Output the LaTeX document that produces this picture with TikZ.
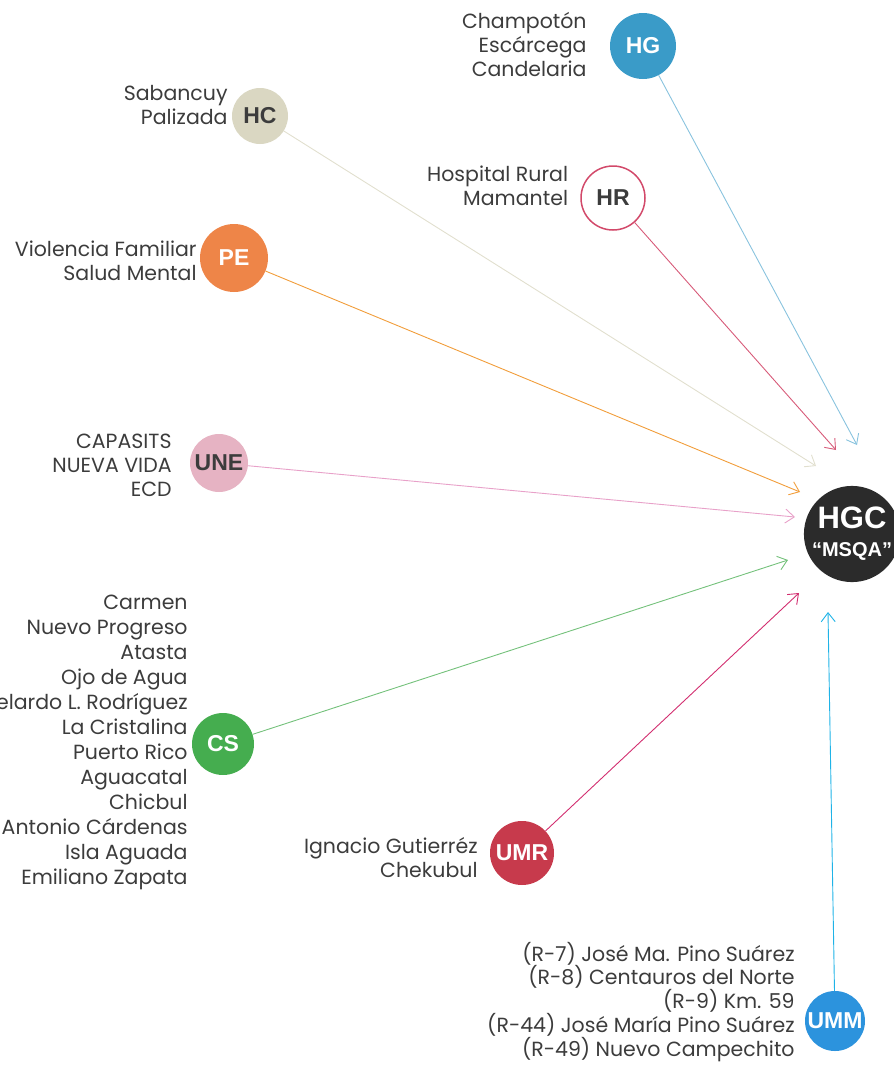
\documentclass[tikz,border=0pt]{standalone}
\usepackage{fontspec}
\setmainfont{Poppins}
\newfontfamily\unitfont{Liberation Sans}
\usepackage{xcolor}
\usetikzlibrary{positioning,arrows.meta}

\definecolor{hgblue}{HTML}{3A9BC8}
\definecolor{hcbeige}{HTML}{DAD7C2}
\definecolor{hrred}{HTML}{D2496A}
\definecolor{peorange}{HTML}{EE8548}
\definecolor{unepink}{HTML}{E6B3C3}
\definecolor{hgcdark}{HTML}{2B2B2B}
\definecolor{csgreen}{HTML}{45AD4F}
\definecolor{umrred}{HTML}{C73A4C}
\definecolor{ummblue}{HTML}{2C93DD}
\definecolor{txtgray}{HTML}{3C3C3C}

\begin{document}
\begin{tikzpicture}[%
    x=1pt, y=-1pt,
    ->,
    >={Straight Barb[length=9pt,width=14pt]},
    unit/.style={%
      circle,
      inner sep=0pt,
      font=\unitfont\bfseries\fontsize{23}{23}\selectfont
    },
    places/.style={%
      align=right,
      inner sep=0pt,
      text=txtgray,
      font=\fontsize{20.5}{24}\selectfont
    },
    link/.style={line width=0.9pt}
  ]
    \useasboundingbox (0,0) rectangle (894,1074);

    \node[unit, fill=hgcdark, text=white, minimum size=92pt, align=center] (hgc) at (852,534)
      {\fontsize{31}{31}\selectfont HGC\\[5pt]\fontsize{20}{20}\selectfont “MSQA”};

    \node[unit, fill=hgblue, text=white, minimum size=66pt] (hg)  at (643,46)   {HG};
    \node[unit, fill=hcbeige, text=txtgray, minimum size=56pt] (hc)  at (260,116)  {HC};
    \node[unit, fill=white, draw=hrred, line width=1.5pt, text=txtgray, minimum size=64pt] (hr) at (613,198) {HR};
    \node[unit, fill=peorange, text=white, minimum size=68pt] (pe)  at (234,258)  {PE};
    \node[unit, fill=unepink, text=txtgray, minimum size=58pt] (une) at (219,463)  {UNE};
    \node[unit, fill=csgreen, text=white, minimum size=62pt] (cs)  at (223,744)  {CS};
    \node[unit, fill=umrred, text=white, minimum size=64pt] (umr) at (522,853)  {UMR};
    \node[unit, fill=ummblue, text=white, minimum size=60pt] (umm) at (835,1021) {UMM};

    \node[places] (hg-list)  [left=23pt of hg, yshift=1pt]   {Champotón\\Escárcega\\Candelaria};
    \node[places] (hc-list)  [left=4pt of hc, yshift=11pt]   {Sabancuy\\Palizada};
    \node[places] (hr-list)  [left=12pt of hr, yshift=12pt]  {Hospital Rural\\Mamantel};
    \node[places] (pe-list)  [left=3pt of pe, yshift=-3pt]   {Violencia Familiar\\Salud Mental};
    \node[places] (une-list) [left=18pt of une, yshift=-2pt] {CAPASITS\\NUEVA VIDA\\ECD};
    \node[places, font=\fontsize{20.5}{25}\selectfont] (cs-list) [left=4pt of cs, yshift=2pt]
      {Carmen\\Nuevo Progreso\\Atasta\\Ojo de Agua\\Abelardo L. Rodríguez\\La Cristalina\\Puerto Rico\\Aguacatal\\Chicbul\\Antonio Cárdenas\\Isla Aguada\\Emiliano Zapata};
    \node[places] (umr-list) [left=12pt of umr, yshift=-5pt] {Ignacio Gutierréz\\Chekubul};
    \node[places, font=\fontsize{20.5}{22.5}\selectfont] (umm-list) [left=10pt of umm, yshift=19pt]
      {(R-7) José Ma. Pino Suárez\\(R-8) Centauros del Norte\\(R-9) Km. 59\\(R-44) José María Pino Suárez\\(R-49) Nuevo Campechito};

    % arrow tips stop short of HGC
    \coordinate (hg-in)  at (857,445);
    \coordinate (hr-in)  at (836,450);
    \coordinate (hc-in)  at (816,466);
    \coordinate (pe-in)  at (800,492);
    \coordinate (une-in) at (795,517);
    \coordinate (cs-in)  at (788,560);
    \coordinate (umr-in) at (799,593);
    \coordinate (umm-in) at (828,612);

    \draw[link, color=hgblue!60]    (hg)  -- (hg-in);
    \draw[link, color=hrred!90]     (hr)  -- (hr-in);
    \draw[link, color=hcbeige!80]   (hc)  -- (hc-in);
    \draw[link, color=peorange!80!yellow] (pe) -- (pe-in);
    \draw[link, color=unepink!90!magenta] (une) -- (une-in);
    \draw[link, color=csgreen!75]   (cs)  -- (cs-in);
    \draw[link, color=umrred!80!magenta] (umr) -- (umr-in);
    \draw[link, color=ummblue!70!cyan] (umm) -- (umm-in);
\end{tikzpicture}
\end{document}
